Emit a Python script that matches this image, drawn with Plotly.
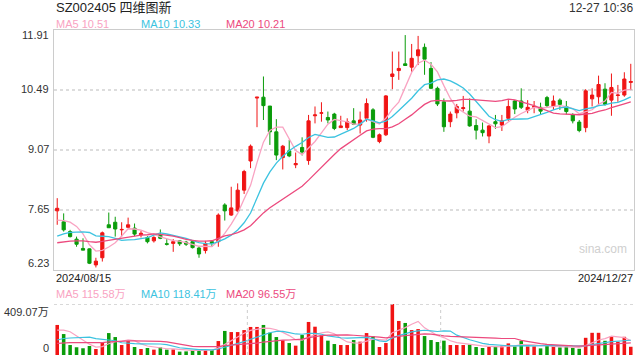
import plotly.graph_objects as go
import pandas as pd

# ---------------- data ----------------
dates = (
    ["2024/08/%02d" % d for d in [15, 16, 19, 20, 21, 22, 23, 26, 27, 28, 29, 30]]
    + ["2024/09/%02d" % d for d in [2, 3, 4, 5, 6, 9, 10, 11, 12, 13, 18, 19, 20, 23, 24, 25, 26, 27, 30]]
    + ["2024/10/%02d" % d for d in [8, 9, 10, 11, 14, 15, 16, 17, 18, 21, 22, 23, 24, 25, 28, 29, 30, 31]]
    + ["2024/11/%02d" % d for d in [1, 4, 5, 6, 7, 8, 11, 12, 13, 14, 15, 18, 19, 20, 21, 22, 25, 26, 27, 28, 29]]
    + ["2024/12/%02d" % d for d in [2, 3, 4, 5, 6, 9, 10, 11, 12, 13, 16, 17, 18, 19, 20, 23, 24, 25, 26, 27]]
)

open_ = [7.63, 7.37, 7.14, 6.96, 6.74, 6.73, 6.35, 6.52, 7.30, 7.36,
         7.18, 7.24, 7.22, 7.06, 7.00, 6.92, 7.07, 6.85, 6.86, 6.92,
         6.89, 6.90, 6.75, 6.69, 6.90, 6.90, 7.77, 7.53, 7.63, 8.12,
         8.81, 10.30, 10.32, 10.11, 9.50, 8.89, 9.05, 8.72, 9.13, 8.82,
         9.88, 9.94, 9.84, 9.92, 9.60, 9.60, 9.76, 9.66, 9.82, 10.02,
         9.27, 9.43, 10.81, 10.95, 11.11, 11.03, 11.30, 11.50, 11.00, 10.53,
         10.21, 9.74, 9.95, 10.05, 9.99, 9.65, 9.54, 9.40, 9.74, 9.66,
         9.82, 10.23, 10.23, 10.01, 10.08, 10.08, 10.31, 10.10, 10.25, 10.10,
         9.91, 9.73, 9.60, 10.28, 10.33, 10.51, 10.25, 10.36, 10.37, 10.67]
high = [7.93, 7.57, 7.18, 7.02, 6.98, 6.74, 6.52, 7.14, 7.59, 7.49,
        7.36, 7.47, 7.33, 7.16, 7.03, 7.03, 7.19, 6.96, 6.96, 6.94,
        6.92, 6.93, 6.80, 6.92, 6.94, 7.57, 7.81, 8.20, 8.28, 8.60,
        9.20, 10.32, 10.81, 10.11, 9.80, 9.19, 9.31, 9.01, 9.37, 9.90,
        10.10, 10.20, 9.98, 9.95, 9.88, 9.82, 10.06, 9.98, 10.29, 10.06,
        9.46, 10.37, 11.40, 11.40, 11.79, 11.58, 11.77, 11.59, 11.15, 10.57,
        10.29, 9.98, 10.16, 10.35, 10.29, 9.80, 9.72, 9.66, 9.90, 9.90,
        10.25, 10.25, 10.53, 10.25, 10.23, 10.19, 10.35, 10.36, 10.29, 10.23,
        9.94, 9.78, 10.51, 10.53, 10.83, 10.65, 10.88, 10.61, 10.91, 11.11]
low = [7.30, 7.14, 7.00, 6.78, 6.70, 6.37, 6.29, 6.43, 7.23, 7.02,
       7.02, 7.24, 7.03, 7.00, 6.86, 6.88, 6.96, 6.81, 6.66, 6.80,
       6.80, 6.74, 6.52, 6.62, 6.78, 6.78, 7.40, 7.51, 7.61, 8.03,
       8.64, 9.61, 9.78, 9.19, 8.83, 8.61, 8.90, 8.64, 8.94, 8.72,
       9.70, 9.74, 9.70, 9.54, 9.60, 9.54, 9.66, 9.46, 9.74, 9.35,
       9.23, 9.40, 10.51, 10.73, 11.07, 10.92, 11.08, 10.85, 10.51, 10.11,
       9.50, 9.61, 9.82, 9.98, 9.62, 9.32, 9.39, 9.23, 9.57, 9.52,
       9.76, 9.92, 10.04, 9.94, 9.94, 9.90, 10.08, 10.02, 10.02, 9.91,
       9.70, 9.49, 9.49, 10.10, 10.12, 10.12, 9.88, 10.21, 10.33, 10.49]
close = [7.69, 7.18, 7.02, 6.84, 6.70, 6.39, 6.44, 7.11, 7.23, 7.20,
         7.19, 7.30, 7.08, 7.10, 6.90, 7.00, 6.98, 6.84, 6.90, 6.85,
         6.84, 6.76, 6.61, 6.86, 6.86, 7.53, 7.63, 7.70, 8.12, 8.56,
         9.16, 10.32, 10.12, 9.50, 8.95, 9.16, 8.93, 8.75, 9.02, 9.76,
         9.90, 9.95, 9.78, 9.58, 9.64, 9.74, 9.68, 9.78, 10.17, 9.37,
         9.43, 10.35, 10.87, 11.00, 11.07, 11.24, 11.44, 11.22, 10.53, 10.16,
         9.62, 9.92, 10.10, 10.07, 9.64, 9.54, 9.48, 9.64, 9.69, 9.76,
         10.10, 10.04, 10.08, 10.08, 10.10, 9.99, 10.12, 10.23, 10.15, 9.98,
         9.76, 9.53, 10.47, 10.37, 10.62, 10.15, 10.55, 10.37, 10.75, 10.69]
volume = [241, 168, 80, 62, 54, 72, 48, 99, 176, 144,
          80, 112, 64, 48, 56, 43, 61, 43, 45, 27,
          29, 40, 45, 40, 40, 112, 193, 184, 184, 200,
          225, 225, 241, 179, 144, 118, 96, 75, 160, 265,
          227, 160, 115, 88, 80, 80, 120, 107, 176, 150,
          64, 96, 409.07, 273, 257, 200, 208, 152, 120, 104,
          115, 80, 80, 80, 83, 64, 56, 64, 67, 75,
          93, 69, 112, 69, 69, 53, 85, 69, 61, 69,
          58, 50, 138, 178, 178, 114, 150, 106, 146, 66]

# estimated closes / volumes of the 19 sessions before the window (needed for the MAs)
prior_close = [6.70, 6.75, 6.68, 6.72, 6.78, 6.70, 6.74, 6.69, 6.72, 6.72,
               6.62, 6.66, 6.70, 6.72, 6.55, 7.24, 7.20, 7.34, 7.58]
prior_volume = [70, 65, 72, 66, 68, 70, 64, 69, 66, 70,
                45, 38, 42, 35, 40, 168, 145, 223, 223]

price_ticks = [6.23, 7.65, 9.07, 10.49, 11.91]
vol_max = 409.07

title_text = "SZ002405 四维图新"
time_text = "12-27 10:36"
ma_price_labels = ["MA5 10.51", "MA10 10.33", "MA20 10.21"]
ma_vol_labels = ["MA5 115.58万", "MA10 118.41万", "MA20 96.55万"]
ma_periods = [5, 10, 20]

# ---------------- style ----------------
RED = "#f01414"
GREEN = "#0a9c0a"
MA_COLORS = ["#f9a3c2", "#3cc3e0", "#ec4a7e"]
FONT = "Arial, Liberation Sans, Noto Sans CJK SC, sans-serif"

L, R, T, B = 54, 6, 30, 5
W, H = 640, 360
PW, PH = W - L - R, H - T - B


def px(x):
    return (x - L) / PW


def py(y):
    return (H - B - y) / PH


def ma(values, prior, n):
    s = pd.Series(list(prior) + list(values)).rolling(n).mean()
    return s.iloc[len(prior):].tolist()


fig = go.Figure()

fig.add_trace(go.Candlestick(
    x=dates, open=open_, high=high, low=low, close=close,
    increasing=dict(line=dict(color=RED, width=1), fillcolor=RED),
    decreasing=dict(line=dict(color=GREEN, width=1), fillcolor=GREEN),
    whiskerwidth=0, xaxis="x", yaxis="y", showlegend=False, hoverinfo="skip",
))

for n, c in zip(ma_periods, MA_COLORS):
    fig.add_trace(go.Scatter(x=dates, y=ma(close, prior_close, n), mode="lines",
                             line=dict(color=c, width=1.3), xaxis="x", yaxis="y",
                             showlegend=False, hoverinfo="skip"))

vol_colors = [RED if c >= o else GREEN for o, c in zip(open_, close)]
fig.add_trace(go.Bar(x=dates, y=volume, marker=dict(color=vol_colors, line=dict(width=0)),
                     width=0.55, xaxis="x2", yaxis="y2", showlegend=False, hoverinfo="skip"))

for n, c in zip(ma_periods, MA_COLORS):
    fig.add_trace(go.Scatter(x=dates, y=ma(volume, prior_volume, n), mode="lines",
                             line=dict(color=c, width=1.2), xaxis="x2", yaxis="y2",
                             showlegend=False, hoverinfo="skip"))

main_bottom = py(270)
vol_top = py(304)

fig.update_layout(
    width=W, height=H,
    margin=dict(l=L, r=R, t=T, b=B),
    paper_bgcolor="white", plot_bgcolor="white",
    hovermode=False,
    font=dict(family=FONT, size=11, color="#333"),
    xaxis=dict(domain=[0, 1], anchor="y", type="category", range=[-0.5, len(dates) - 0.5],
               showticklabels=False, showgrid=False, zeroline=False,
               showline=True, mirror=True, linecolor="#cccccc", linewidth=1,
               rangeslider=dict(visible=False), fixedrange=True),
    yaxis=dict(domain=[main_bottom, 1], anchor="x", range=[price_ticks[0], price_ticks[-1]],
               tickvals=price_ticks[1:-1], showticklabels=False, ticks="",
               showgrid=True, gridcolor="#dddddd", griddash="dot", gridwidth=1.5,
               zeroline=False, showline=True, mirror=True, linecolor="#cccccc", linewidth=1),
    xaxis2=dict(domain=[0, 1], anchor="y2", type="category", range=[-0.5, len(dates) - 0.5],
                showticklabels=False, showgrid=False, zeroline=False, showline=False),
    yaxis2=dict(domain=[0, vol_top], anchor="x2", range=[0, vol_max],
                showticklabels=False, showgrid=False, zeroline=False, showline=False),
    bargap=0.4,
)

shapes = [
    dict(type="line", xref="paper", yref="y2", x0=0, x1=1, y0=vol_max, y1=vol_max,
         line=dict(color="#cccccc", width=1.5, dash="dot")),
    dict(type="line", xref="paper", yref="y2", x0=1 / 3, x1=1 / 3, y0=0, y1=vol_max,
         line=dict(color="#cccccc", width=1, dash="dot")),
    dict(type="line", xref="paper", yref="y2", x0=2 / 3, x1=2 / 3, y0=0, y1=vol_max,
         line=dict(color="#cccccc", width=1, dash="dot")),
]
fig.update_layout(shapes=shapes)

ann = []


def add(text, x, y, xa="left", size=11, color="#333"):
    ann.append(dict(text=text, x=px(x), y=py(y), xref="paper", yref="paper",
                    xanchor=xa, yanchor="middle", showarrow=False,
                    font=dict(size=size, color=color, family=FONT)))


add(title_text, 54, 8, size=13, color="#222")
add(time_text, 635, 8, xa="right", size=12, color="#333")
for lab, c, x in zip(ma_price_labels, MA_COLORS, [54, 139, 224]):
    add(lab, x, 24, color=c)
for lab, c, x in zip(ma_vol_labels, MA_COLORS, [54, 139, 224]):
    add(lab, x, 294, color=c)
add(dates[0], 54, 278, color="#222")
add(dates[-1], 635, 278, xa="right", color="#222")

# price tick labels
label_y = {price_ticks[0]: 263, price_ticks[-1]: 35}
for v in price_ticks:
    ypix = label_y.get(v, 270 - (v - price_ticks[0]) / (price_ticks[-1] - price_ticks[0]) * 240 - 1)
    add("%.2f" % v, 51, ypix, xa="right", color="#333")
add("%.2f万" % vol_max, 51, 312, xa="right", color="#333")
add("0", 51, 348, xa="right", color="#333")
add("sina.com", 603, 249, xa="center", size=12, color="#cfcfcf")

fig.update_layout(annotations=ann)

fig.write_html("out.html", config={"displayModeBar": False, "staticPlot": True},
               post_script="document.body.style.margin='0';document.body.style.overflow='hidden';")
